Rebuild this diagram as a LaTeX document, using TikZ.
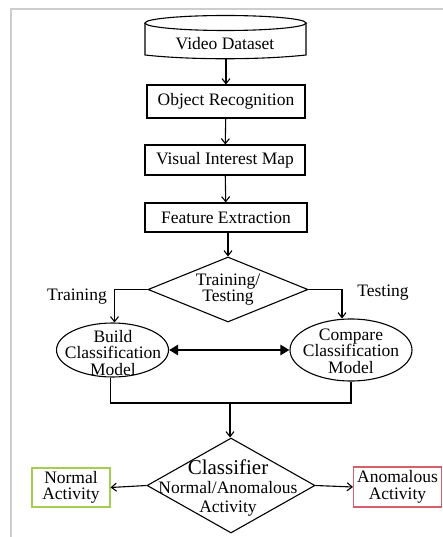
\documentclass[tikz,border=0pt]{standalone}
\usepackage{fontspec}
\setmainfont{Liberation Serif}
\usepackage{tikz}
\usetikzlibrary{shapes.geometric, arrows.meta}

\definecolor{framegray}{RGB}{205,205,205}
\definecolor{normalgreen}{RGB}{165,205,80}
\definecolor{anomred}{RGB}{215,95,105}

\begin{document}
\begin{tikzpicture}[x=1pt, y=-1pt, line width=1.1pt,
    txt/.style={font=\fontsize{17.5}{16.5}\selectfont, align=center, inner sep=0pt},
    procbox/.style={draw, rectangle, txt},
    decision/.style={draw, diamond, inner sep=0pt},
    oval/.style={draw, ellipse, inner sep=0pt},
    flow/.style={-{Straight Barb[length=5pt,width=8pt]}},
    both/.style={line width=2.6pt, {Triangle[length=9pt,width=10pt]}-{Triangle[length=9pt,width=10pt]}}]
    \useasboundingbox (0,0) rectangle (443,537);
    \draw[color=framegray, line width=1.5pt] (443,9) -- (11,9) -- (11,537);

    % database on top
    \draw (145,23) -- (145,55) .. controls (190,60) and (260,60) .. (306,55) -- (306,23);
    \draw (225.5,23) ellipse (80.5 and 7.5);
    \node[txt] (data) at (225,44) {Video Dataset};
    \coordinate (databot) at (226,58);

    \node[procbox, minimum width=158, minimum height=33] (rec) at (226,101.5) {Object Recognition};
    \node[procbox, minimum width=160, minimum height=30] (vim) at (225,160) {Visual Interest Map};
    \node[procbox, minimum width=162, minimum height=29] (feat) at (226,217.5) {Feature Extraction};
    \node[decision, txt, draw, aspect=2.46, minimum width=160, minimum height=65,
          font=\fontsize{17.5}{16.5}\selectfont] (tt) at (228,289.5) {Training/\\Testing};

    \node[txt] (trainlbl) at (77,297) {Training};
    \node[txt] (testlbl) at (383,293) {Testing};

    \node[oval, minimum width=112, minimum height=54] (build) at (112.5,350) {};
    \node[txt] (buildtxt) at (113,353) {Build\\Classification\\Model};
    \node[oval, minimum width=122, minimum height=62] (comp) at (351,350) {};
    \node[txt] (comptxt) at (351,351) {Compare\\Classification\\Model};

    \node[decision, minimum width=168, minimum height=95] (cls) at (231,485.5) {};
    \node[txt, font=\fontsize{17.5}{19}\selectfont] (clstxt) at (228,488)
        {{\fontsize{21}{19}\selectfont Classifier}\\Normal/Anomalous\\Activity};

    \node[procbox, draw=normalgreen, minimum width=78, minimum height=39] (normal) at (71,487.5) {Normal\\Activity};
    \node[procbox, draw=anomred, minimum width=88, minimum height=40] (anom) at (397.5,487) {Anomalous\\Activity};

    \draw[flow] (databot) -- (rec);
    \draw[flow] (rec) -- (vim);
    \draw[flow] (vim) -- (feat);
    \draw[flow] (feat.south -| tt.north) -- (tt.north);
    \draw[flow] (tt.west) -| ([xshift=2pt]build.north);
    \draw[flow] (tt.east) -| ([xshift=-9pt]comp.north);
    \draw[both] (build.east) -- (comp.west);

    \coordinate (merge) at (230,403);
    \draw ([xshift=-2pt]build.south) |- (merge) -| (comp.south);
    \draw[flow] (merge) -- (merge |- cls.north);
    \draw[flow] (cls.west) -- (normal.east);
    \draw[flow] (cls.east) -- (anom.west);
\end{tikzpicture}
\end{document}
